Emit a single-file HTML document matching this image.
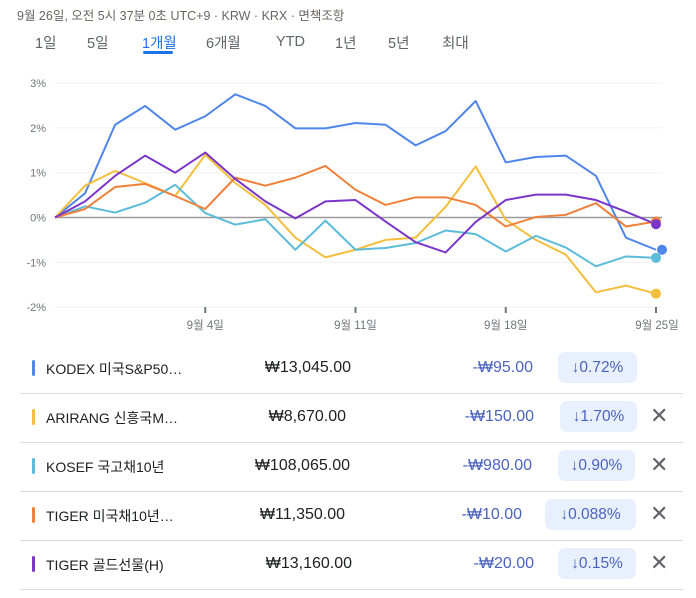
<!DOCTYPE html>
<html><head><meta charset="utf-8"><style>
body{margin:0;width:696px;height:598px;background:#fff;position:relative;overflow:hidden;font-family:"Liberation Sans","Noto Sans CJK KR",sans-serif;}
.a{position:absolute;white-space:nowrap}
.hdr{left:17px;top:5px;font-size:12.5px;color:#6b6560}
.tab{top:32px;font-size:14.5px;color:#5f6368}
.row .bar{position:absolute;left:32px;width:3px;height:16px;border-radius:2px}
.nm{left:46px;font-size:14px;color:#202124}
.pr{font-size:16px;color:#202124;text-align:right}
.ch{font-size:16px;color:#4b63c0;text-align:right}
.bd{height:31px;border-radius:7px;background:#e8f0fe;color:#4b63c0;font-size:15.5px;line-height:31px;text-align:center}
.x{left:650px;font-size:22px;color:#5f6368}
.sep{position:absolute;left:20px;width:663px;height:1px;background:#dadce0}
</style></head><body>
<div class="a hdr">9월 26일, 오전 5시 37분 0초 UTC+9 · KRW · KRX · 면책조항</div>
<div class="a tab" style="left:35px">1일</div>
<div class="a tab" style="left:87px">5일</div>
<div class="a tab" style="left:142px;color:#1a73e8">1개월</div>
<div class="a" style="left:143px;top:51px;width:30px;height:3px;background:#1a73e8;border-radius:2px"></div>
<div class="a tab" style="left:206px">6개월</div>
<div class="a tab" style="left:276px;top:34px">YTD</div>
<div class="a tab" style="left:335px">1년</div>
<div class="a tab" style="left:388px">5년</div>
<div class="a tab" style="left:442px">최대</div>

<svg id="chart" class="a" style="left:0;top:0" width="696" height="340"></svg>

<div id="tbl"></div>
<script>
const dates=["8/28","8/29","8/30","8/31","9/1","9/4","9/5","9/6","9/7","9/8","9/11","9/12","9/13","9/14","9/15","9/18","9/19","9/20","9/21","9/22","9/25"];
const kodex=[0,0.54,2.07,2.49,1.96,2.26,2.75,2.49,1.99,1.99,2.11,2.07,1.61,1.93,2.60,1.23,1.35,1.38,0.93,-0.45,-0.72];
const arirang=[0,0.71,1.04,0.77,0.48,1.40,0.77,0.28,-0.45,-0.89,-0.72,-0.50,-0.45,0.24,1.14,-0.05,-0.50,-0.83,-1.67,-1.52,-1.70];
const kosef=[0,0.25,0.11,0.33,0.73,0.10,-0.16,-0.04,-0.72,-0.07,-0.72,-0.68,-0.57,-0.29,-0.37,-0.76,-0.41,-0.67,-1.09,-0.87,-0.90];
const tigerUs=[0,0.19,0.68,0.75,0.48,0.19,0.89,0.71,0.89,1.15,0.62,0.28,0.45,0.45,0.28,-0.20,0.01,0.06,0.32,-0.20,-0.09];
const tigerGold=[0,0.36,0.93,1.38,1.00,1.45,0.86,0.36,-0.02,0.36,0.39,-0.09,-0.55,-0.78,-0.10,0.39,0.51,0.51,0.39,0.13,-0.15];
const yTicks=[3,2,1,0,-1,-2];
const xTickIdx=[5,10,15,20];
const xTickLabels=["9월 4일","9월 11일","9월 18일","9월 25일"];
const seriesColors=["#4f86ec","#f4be3e","#5bbcd9","#ef8039","#7b35c9"];
const seriesNames=["kodex","arirang","kosef","tiger-us","tiger-gold"];

const X=i=>55+i*30.05;
const Y=v=>217.5-v*44.8;
const svg=document.getElementById('chart');
const NS="http://www.w3.org/2000/svg";
function mk(t,at){const e=document.createElementNS(NS,t);for(const k in at)e.setAttribute(k,at[k]);svg.appendChild(e);return e;}
yTicks.forEach(v=>{
  const l=mk('line',{x1:55,x2:662,y1:Y(v),y2:Y(v),stroke:v===0?'#9a9a9a':'#f1f1f1','stroke-width':v===0?1.5:1});
  
  
  const t=mk('text',{x:46,y:Y(v)+4,'text-anchor':'end','font-size':11,fill:'#70757a'});
  t.textContent=v+'%';
  
  
});
xTickIdx.forEach((idx,k)=>{
  const x=X(idx);
  const l=mk('line',{x1:x,x2:x,y1:307,y2:313,stroke:'#70757a','stroke-width':2});
  
  
  const t=mk('text',{x:k===3?x+1:x,y:329,'text-anchor':'middle','font-size':11.5,fill:'#70757a'});
  t.textContent=xTickLabels[k];
  
  
});
[kodex,arirang,kosef,tigerUs,tigerGold].forEach((s,si)=>{
  const p=mk('polyline',{points:s.map((v,i)=>X(i)+','+Y(v)).join(' '),fill:'none',stroke:seriesColors[si],'stroke-width':2,'stroke-linejoin':'round'});
  
  
});
[3,2,1,0,4].forEach(si=>{
  const s=[kodex,arirang,kosef,tigerUs,tigerGold][si];
  const n=s.length-1;
  const c=mk('circle',{cx:X(n)+(si===0?6:0),cy:Y(s[n]),r:5,fill:seriesColors[si]});
  
  
});

const rows=[
 ["KODEX 미국S&P50…","₩13,045.00","-₩95.00","↓0.72%",351,533,558,79,false],
 ["ARIRANG 신흥국M…","₩8,670.00","-₩150.00","↓1.70%",346,534,560,77,true],
 ["KOSEF 국고채10년","₩108,065.00","-₩980.00","↓0.90%",350,532,558,77,true],
 ["TIGER 미국채10년…","₩11,350.00","-₩10.00","↓0.088%",345,522,545,91,true],
 ["TIGER 골드선물(H)","₩13,160.00","-₩20.00","↓0.15%",352,534,558,78,true]
];
const tbl=document.getElementById('tbl');
rows.forEach((r,i)=>{
  const cy=368+i*49;
  const d=document.createElement('div');
  d.className='row';
  
  
  d.innerHTML=
   `<div class="bar" style="top:${cy-8}px;background:${seriesColors[i]}"></div>`+
   `<div class="a nm" style="top:${cy-9}px">${r[0].replace('&','&amp;')}</div>`+
   `<div class="a pr" style="right:${696-r[4]}px;top:${cy-9}px">${r[1]}</div>`+
   `<div class="a ch" style="right:${696-r[5]}px;top:${cy-9}px">${r[2]}</div>`+
   `<div class="a bd" style="left:${r[6]}px;width:${r[7]}px;top:${cy-16}px">${r[3]}</div>`+
   (r[8]?`<div class="a x" style="top:${cy-14}px">✕</div>`:'')+
   `<div class="sep" style="top:${cy+25}px"></div>`;
  tbl.appendChild(d);
});
</script>
</body></html>
